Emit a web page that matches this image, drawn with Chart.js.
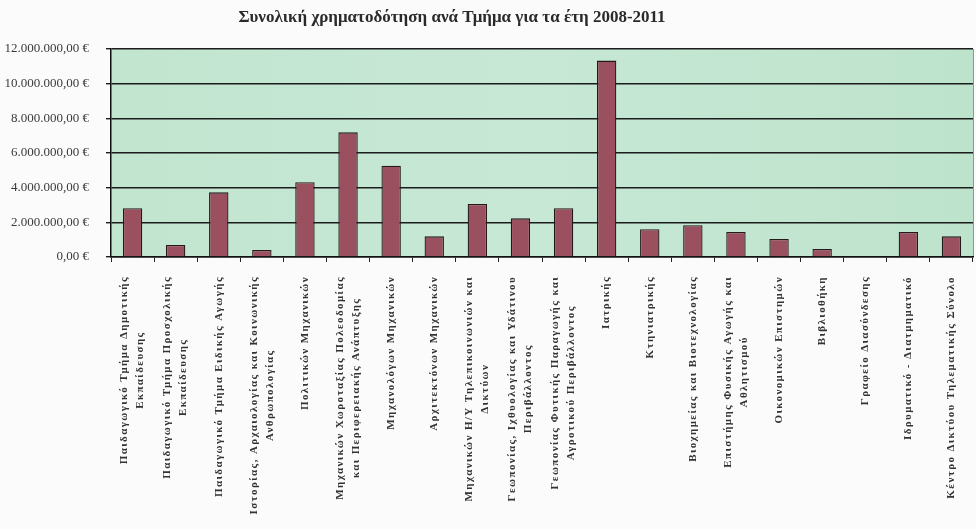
<!DOCTYPE html>
<html>
<head>
<meta charset="utf-8">
<script src="https://cdn.jsdelivr.net/npm/chart.js@4.4.1/dist/chart.umd.min.js"></script>
<style>
  body { margin: 0; background: #fbfbfb; }
  #wrap { width: 976px; height: 529px; position: relative; }
</style>
</head>
<body>
<div id="wrap"><canvas id="chart"></canvas></div>
<script>
// ===== Data =====
const titleText = 'Συνολική χρηματοδότηση ανά Τμήμα για τα έτη 2008-2011';

const departments = [
  ['Παιδαγωγικό Τμήμα Δημοτικής', 'Εκπαίδευσης'],
  ['Παιδαγωγικό Τμήμα Προσχολικής', 'Εκπαίδευσης'],
  ['Παιδαγωγικό Τμήμα Ειδικής Αγωγής'],
  ['Ιστορίας, Αρχαιολογίας και Κοινωνικής', 'Ανθρωπολογίας'],
  ['Πολιτικών Μηχανικών'],
  ['Μηχανικών Χωροταξίας Πολεοδομίας', 'και Περιφερειακής Ανάπτυξης'],
  ['Μηχανολόγων Μηχανικών'],
  ['Αρχιτεκτόνων Μηχανικών'],
  ['Μηχανικών Η/Υ Τηλεπικοινωνιών και', 'Δικτύων'],
  ['Γεωπονίας, Ιχθυολογίας και Υδάτινου', 'Περιβάλλοντος'],
  ['Γεωπονίας Φυτικής Παραγωγής και', 'Αγροτικού Περιβάλλοντος'],
  ['Ιατρικής'],
  ['Κτηνιατρικής'],
  ['Βιοχημείας και Βιοτεχνολογίας'],
  ['Επιστήμης Φυσικής Αγωγής και', 'Αθλητισμού'],
  ['Οικονομικών Επιστημών'],
  ['Βιβλιοθήκη'],
  ['Γραφείο Διασύνδεσης'],
  ['Ιδρυματικό - Διατμηματικό'],
  ['Κέντρο Δικτύου Τηλεματικής Σύνολο']
];

const funding = [
  2810000, 690000, 3730000, 400000, 4310000,
  7190000, 5270000, 1190000, 3060000, 2230000,
  2810000, 11330000, 1600000, 1830000, 1440000,
  1040000, 460000, 0, 1440000, 1190000
];

const yMin = 0;
const yMax = 12000000;
const yStep = 2000000;

// Greek style money: 12.000.000,00 €
function euro(v) {
  const s = Math.round(v).toString().replace(/\B(?=(\d{3})+(?!\d))/g, '.');
  return s + ',00 €';
}

// Plot area background
const plotBackground = {
  id: 'plotBackground',
  beforeDraw(chart) {
    const { ctx, chartArea: a } = chart;
    const g = ctx.createLinearGradient(a.left, 0, a.right, 0);
    g.addColorStop(0, '#c2e5d0');
    g.addColorStop(0.5, '#c6e8d5');
    g.addColorStop(1, '#bee3cc');
    ctx.save();
    ctx.fillStyle = g;
    ctx.fillRect(a.left, a.top, a.right - a.left, a.bottom - a.top);
    ctx.strokeStyle = '#8a9a90';
    ctx.lineWidth = 1;
    ctx.beginPath();
    ctx.moveTo(a.right + 0.5, a.top);
    ctx.lineTo(a.right + 0.5, a.bottom);
    ctx.stroke();
    ctx.restore();
  }
};

// Title and vertical category labels (lines centred like the spreadsheet does)
const textLayer = {
  id: 'textLayer',
  afterDraw(chart) {
    const { ctx } = chart;
    const xScale = chart.scales.x;
    ctx.save();
    ctx.fillStyle = '#2a2a2a';
    ctx.font = 'bold 17px "Liberation Serif"';
    ctx.textAlign = 'center';
    ctx.textBaseline = 'middle';
    ctx.fillText(titleText, 452, 18);

    ctx.font = 'bold 11px "Liberation Serif"';
    ctx.letterSpacing = '1.4px';
    ctx.fillStyle = '#333';
    const top = 276;
    const lineH = 16;
    departments.forEach((lines, i) => {
      const x = xScale.getPixelForTick(i);
      const widest = Math.max(...lines.map(l => ctx.measureText(l).width));
      ctx.save();
      ctx.translate(x, top + widest / 2);
      ctx.rotate(-Math.PI / 2);
      lines.forEach((l, j) => {
        ctx.fillText(l, 0, (j - (lines.length - 1) / 2) * lineH);
      });
      ctx.restore();
    });
    ctx.restore();
  }
};

new Chart(document.getElementById('chart'), {
  type: 'bar',
  data: {
    labels: departments,
    datasets: [{
      label: 'Χρηματοδότηση',
      data: funding,
      backgroundColor: '#9b5060',
      borderColor: '#24191b',
      borderWidth: 1.3,
      barPercentage: 0.45,
      categoryPercentage: 1
    }]
  },
  options: {
    responsive: true,
    maintainAspectRatio: false,
    animation: false,
    layout: { padding: { top: 49, right: 3, bottom: 0, left: 0 } },
    plugins: {
      legend: { display: false },
      tooltip: { enabled: false }
    },
    scales: {
      x: {
        ticks: { display: false },
        grid: {
          drawOnChartArea: false,
          drawTicks: true,
          tickLength: 5,
          color: '#222',
          lineWidth: 1
        },
        border: { display: true, color: '#111', width: 1.5 },
        afterFit(scale) { scale.height = 272; }
      },
      y: {
        min: yMin,
        max: yMax,
        ticks: {
          stepSize: yStep,
          padding: 17,
          color: '#3a3a3a',
          font: { family: 'Liberation Serif', size: 13 },
          callback: v => euro(v)
        },
        grid: {
          color: '#1c1c1c',
          lineWidth: 1.4,
          drawTicks: true,
          tickLength: 5
        },
        border: { display: true, color: '#111', width: 1.5 },
        afterFit(scale) { scale.width = 111; }
      }
    }
  },
  plugins: [plotBackground, textLayer]
});
</script>
</body>
</html>
